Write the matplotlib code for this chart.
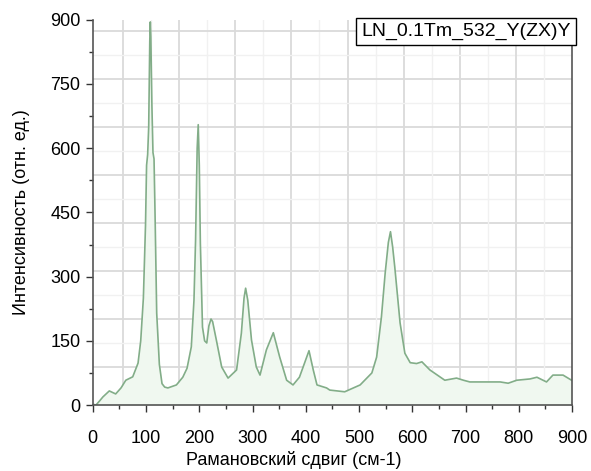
import matplotlib
matplotlib.use("Agg")
import matplotlib.pyplot as plt
import numpy as np

plt.rcParams['font.family'] = ['Liberation Sans', 'DejaVu Sans']

# Raman shift (cm-1) and intensity
shift = [0, 6, 13, 19, 31, 43, 53, 62, 75, 85, 90, 95, 99, 101, 103, 105, 107, 108,
         109, 111, 113, 115, 117, 120, 125, 130, 135, 141,
         157, 169, 177, 185, 190, 193, 196, 198, 200, 202, 206, 210, 214, 218, 222, 225,
         232, 242, 254, 270, 279, 284, 287, 291, 298, 307, 314, 326, 339, 351, 364, 376,
         388, 395, 406, 414, 421, 439, 445, 473, 502, 524, 533, 542, 549, 555, 559, 563,
         567, 577, 586, 596, 608, 618, 633, 661, 683, 696, 708, 740, 765, 780, 796, 821,
         834, 852, 864, 883, 899]
intensity = [2, 0, 10, 19, 33, 26, 40, 58, 66, 98, 150, 250, 420, 560, 585, 650, 850, 895,
             860, 700, 590, 575, 440, 215, 95, 50, 42, 40,
             47, 65, 86, 136, 245, 385, 600, 655, 560, 378, 182, 150, 145, 185, 201, 195,
             152, 89, 63, 82, 168, 250, 273, 245, 152, 89, 70, 129, 169, 112, 58, 47,
             65, 89, 127, 82, 47, 40, 35, 31, 47, 75, 112, 206, 308, 380, 405, 370,
             323, 192, 121, 99, 97, 101, 82, 58, 63, 58, 54, 54, 54, 51, 58, 61,
             65, 54, 70, 70, 58]

legend_label = "LN_0.1Tm_532_Y(ZX)Y"
x_label = "Рамановский сдвиг (см-1)"
y_label = "Интенсивность (отн. ед.)"
x_ticks = [0, 100, 200, 300, 400, 500, 600, 700, 800, 900]
y_ticks = [0, 150, 300, 450, 600, 750, 900]

fig = plt.figure(figsize=(5.91, 4.71), dpi=100)
ax = fig.add_axes([0.157, 0.140, 0.811, 0.818])

# background grid (offset, as in the original)
for k in range(9):
    gx = 56.4 + 105.5 * k
    if gx < 900:
        ax.axvline(gx, color='#dadada', lw=1.3, zorder=0)
    if gx + 52.7 < 900:
        ax.axvline(gx + 52.7, color='#f1f1f1', lw=1.0, zorder=0)
    gy = 89 + 112.2 * k
    if gy < 900:
        ax.axhline(gy, color='#dadada', lw=1.3, zorder=0)
    if gy + 56 < 900:
        ax.axhline(gy + 56, color='#f1f1f1', lw=1.0, zorder=0)

ax.fill_between(shift, intensity, 0, color='#f0f8f0', lw=0, zorder=1)
ax.plot(shift, intensity, color='#82ad88', lw=1.2, zorder=2)

ax.set_xlim(0, 900)
ax.set_ylim(0, 900)
ax.set_xticks(x_ticks)
ax.set_yticks(y_ticks)
ax.set_xticks(np.arange(50, 900, 100), minor=True)
ax.set_yticks(np.arange(75, 900, 150), minor=True)
ax.tick_params(axis='both', which='major', direction='out', length=5, width=1,
               color='#333333', labelsize=13, pad=4)
ax.tick_params(axis='both', which='minor', direction='out', length=3, width=1,
               color='#333333')
ax.tick_params(axis='x', pad=13)

for s in ['left', 'bottom', 'right']:
    ax.spines[s].set_color('#555555')
    ax.spines[s].set_linewidth(1.2)
ax.spines['top'].set_visible(False)

ax.set_xlabel(x_label, fontsize=13, labelpad=4)
ax.xaxis.set_label_coords(0.42, -0.118)
ax.set_ylabel(y_label, fontsize=13, labelpad=14)

ax.text(0.997, 0.993, legend_label, transform=ax.transAxes, ha='right', va='top',
        fontsize=14, zorder=5,
        bbox=dict(boxstyle='square,pad=0.25', facecolor='white', edgecolor='black', lw=1))

fig.savefig('out.png', dpi=100)
